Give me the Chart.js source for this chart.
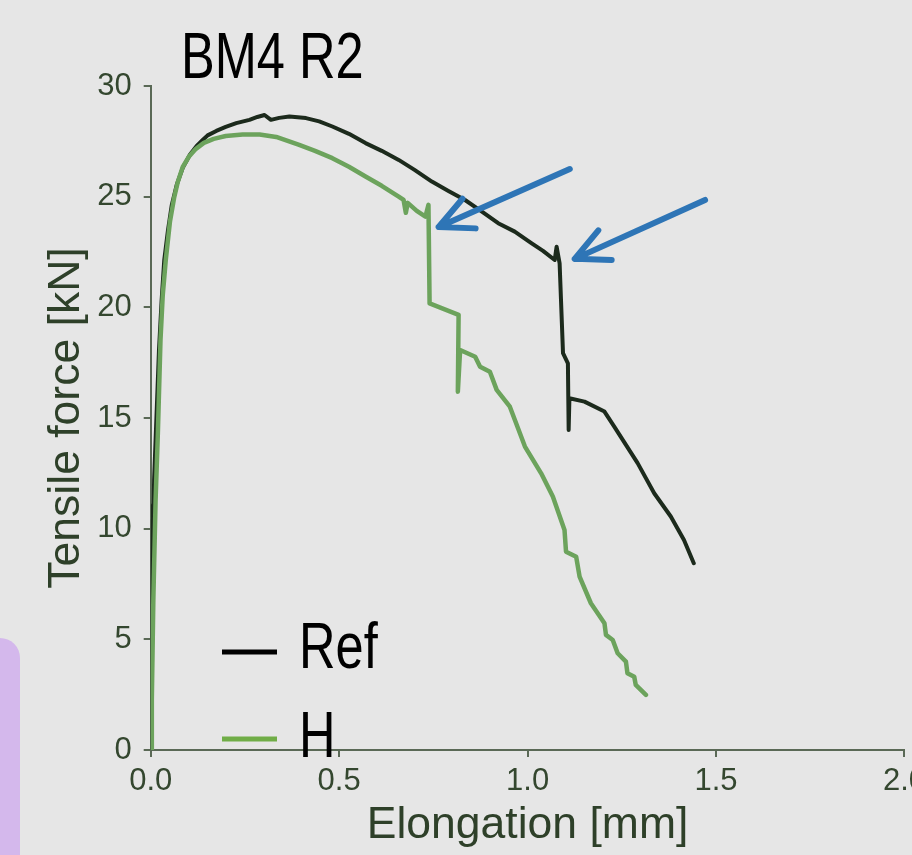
<!DOCTYPE html>
<html>
<head>
<meta charset="utf-8">
<script src="https://cdn.jsdelivr.net/npm/chart.js@4/dist/chart.umd.min.js"></script>
<style>
  html, body { margin: 0; padding: 0; width: 912px; height: 855px; overflow: hidden; background: #e6e6e6; }
  #wrap { position: relative; width: 912px; height: 855px; overflow: hidden; }
  #c { position: absolute; left: 0; top: 0; }
  #tab { position: absolute; left: 0; top: 638px; width: 20px; height: 217px; background: #d4b8ec; border-top-right-radius: 20px; }
</style>
</head>
<body>
<div id="wrap">
  <div id="tab"></div>
  <canvas id="c" width="932" height="855"></canvas>
</div>
<script>
// ---- Data (elongation in mm, tensile force in kN) ----
const chartTitle = "BM4 R2";
const seriesNames = ["Ref", "H"];
const lineColors = ["#1c2a1c", "#6ca35c"];
const legendColors = ["#000000", "#70ad47"];

const refX = [0, 0.002, 0.003, 0.005, 0.006, 0.007, 0.009, 0.013, 0.017, 0.022, 0.029, 0.036, 0.046, 0.056, 0.069, 0.085, 0.104, 0.122, 0.138, 0.151, 0.174, 0.199, 0.227, 0.262, 0.283, 0.302, 0.319, 0.341, 0.368, 0.412, 0.447, 0.482, 0.526, 0.570, 0.613, 0.658, 0.700, 0.746, 0.790, 0.834, 0.877, 0.922, 0.966, 1.010, 1.041, 1.072, 1.077, 1.085, 1.094, 1.107, 1.109, 1.111, 1.151, 1.204, 1.230, 1.292, 1.336, 1.380, 1.415, 1.441];
const refY = [0, 2.26, 6.78, 10.39, 11.07, 9.94, 12.2, 14.01, 15.82, 18.08, 20.33, 22.14, 23.5, 24.63, 25.53, 26.3, 26.89, 27.29, 27.56, 27.77, 27.97, 28.15, 28.32, 28.47, 28.6, 28.69, 28.47, 28.56, 28.62, 28.55, 28.4, 28.17, 27.84, 27.42, 27.07, 26.66, 26.21, 25.68, 25.26, 24.85, 24.35, 23.8, 23.42, 22.9, 22.55, 22.14, 22.74, 21.99, 17.93, 17.47, 14.46, 15.89, 15.74, 15.29, 14.61, 12.96, 11.6, 10.55, 9.49, 8.44];

const hX = [0.001, 0.003, 0.007, 0.013, 0.019, 0.026, 0.032, 0.040, 0.051, 0.062, 0.072, 0.085, 0.101, 0.120, 0.141, 0.167, 0.199, 0.244, 0.289, 0.333, 0.394, 0.436, 0.482, 0.526, 0.570, 0.613, 0.658, 0.671, 0.677, 0.682, 0.706, 0.729, 0.737, 0.740, 0.817, 0.815, 0.821, 0.861, 0.874, 0.900, 0.918, 0.953, 0.993, 1.036, 1.067, 1.098, 1.102, 1.129, 1.138, 1.168, 1.204, 1.208, 1.226, 1.239, 1.261, 1.265, 1.283, 1.287, 1.314];
const hY = [0, 2.26, 6.78, 11.3, 14.32, 18.53, 20.56, 22.14, 23.86, 24.94, 25.67, 26.34, 26.8, 27.16, 27.43, 27.61, 27.74, 27.81, 27.81, 27.7, 27.34, 27.07, 26.74, 26.35, 25.91, 25.49, 25.0, 24.85, 24.27, 24.72, 24.36, 24.1, 24.63, 20.18, 19.66, 16.19, 18.07, 17.77, 17.32, 17.09, 16.27, 15.51, 13.71, 12.5, 11.45, 9.94, 8.96, 8.73, 7.83, 6.63, 5.73, 5.2, 4.97, 4.37, 3.99, 3.47, 3.31, 2.94, 2.49];

const xTicks = [0, 0.5, 1.0, 1.5, 2.0];
const yTicks = [0, 5, 10, 15, 20, 25, 30];
const xTitle = "Elongation [mm]";
const yTitle = "Tensile force [kN]";

// arrows in data units
const arrowTailX = [1.112, 1.471];
const arrowTailY = [26.25, 24.85];
const arrowTipX = [0.764, 1.125];
const arrowTipY = [23.63, 22.19];
const arrowColor = "#2e75b6";

function pts(xs, ys) { return xs.map((x, i) => ({ x: x, y: ys[i] })); }

const tickColor = "#34472f";
const axisColor = "#5a6956";
const titleColor = "#2e4029";

function narrowText(ctx, text, x, y) {
  ctx.save();
  ctx.translate(x, y);
  ctx.scale(0.79, 1);
  ctx.fillText(text, 0, 0);
  ctx.restore();
}

const overlay = {
  id: 'overlay',
  afterDatasetsDraw(chart) {
    const ctx = chart.ctx;
    const xs = chart.scales.x, ys = chart.scales.y;
    ctx.save();
    ctx.strokeStyle = arrowColor;
    ctx.lineWidth = 6;
    ctx.lineCap = 'round';
    ctx.lineJoin = 'round';
    for (let i = 0; i < arrowTipX.length; i++) {
      const x1 = xs.getPixelForValue(arrowTailX[i]), y1 = ys.getPixelForValue(arrowTailY[i]);
      const x2 = xs.getPixelForValue(arrowTipX[i]), y2 = ys.getPixelForValue(arrowTipY[i]);
      const ang = Math.atan2(y1 - y2, x1 - x2);
      const L = 37, spread = 26 * Math.PI / 180;
      ctx.beginPath();
      ctx.moveTo(x1, y1); ctx.lineTo(x2, y2);
      ctx.moveTo(x2 + L * Math.cos(ang - spread), y2 + L * Math.sin(ang - spread));
      ctx.lineTo(x2, y2);
      ctx.lineTo(x2 + L * Math.cos(ang + spread), y2 + L * Math.sin(ang + spread));
      ctx.stroke();
    }
    ctx.fillStyle = "#000";
    ctx.font = '64px "Liberation Sans", Arial, sans-serif';
    ctx.textBaseline = 'alphabetic';
    ctx.textAlign = 'left';
    narrowText(ctx, chartTitle, 181, 78);
    const legY = [652, 739];
    const textBase = [668, 757];
    ctx.lineCap = 'butt';
    for (let i = 0; i < seriesNames.length; i++) {
      ctx.strokeStyle = legendColors[i];
      ctx.lineWidth = 5;
      ctx.beginPath();
      ctx.moveTo(222, legY[i]); ctx.lineTo(277, legY[i]);
      ctx.stroke();
      ctx.fillStyle = "#000";
      narrowText(ctx, seriesNames[i], 299, textBase[i]);
    }
    ctx.restore();
  }
};

new Chart(document.getElementById('c'), {
  type: 'line',
  data: {
    datasets: [
      { label: seriesNames[0], data: pts(refX, refY), borderColor: lineColors[0], borderWidth: 4, pointRadius: 0, tension: 0, order: 1, borderJoinStyle: 'round', borderCapStyle: 'round' },
      { label: seriesNames[1], data: pts(hX, hY), borderColor: lineColors[1], borderWidth: 4.5, pointRadius: 0, tension: 0, order: 0, borderJoinStyle: 'round', borderCapStyle: 'round' }
    ]
  },
  options: {
    responsive: false,
    devicePixelRatio: 1,
    animation: false,
    layout: { padding: { top: 86, right: 24.7, left: 0.7, bottom: 0 } },
    plugins: { legend: { display: false }, tooltip: { enabled: false }, title: { display: false } },
    scales: {
      x: {
        type: 'linear', min: 0, max: 2,
        afterFit: s => { s.height = 105; },
        afterBuildTicks: s => { s.ticks = xTicks.map(v => ({ value: v })); },
        ticks: { color: tickColor, font: { family: 'Liberation Sans', size: 31 }, padding: 6, maxRotation: 0, callback: v => Number(v).toFixed(1) },
        grid: { drawOnChartArea: false, drawTicks: true, tickLength: 7, color: axisColor, lineWidth: 2 },
        border: { color: axisColor, width: 2 },
        title: { display: true, text: xTitle, color: titleColor, font: { family: 'Liberation Sans', size: 44.5 }, padding: { top: 0, bottom: 3 } }
      },
      y: {
        type: 'linear', min: 0, max: 30,
        afterFit: s => { s.width = 150; },
        afterBuildTicks: s => { s.ticks = yTicks.map(v => ({ value: v })); },
        ticks: { color: tickColor, font: { family: 'Liberation Sans', size: 31 }, padding: 12 },
        grid: { drawOnChartArea: false, drawTicks: true, tickLength: 7, color: axisColor, lineWidth: 2 },
        border: { color: axisColor, width: 2 },
        title: { display: true, text: yTitle, color: titleColor, font: { family: 'Liberation Sans', size: 44.5 }, padding: { top: 39, bottom: 0 } }
      }
    }
  },
  plugins: [overlay]
});
</script>
</body>
</html>
